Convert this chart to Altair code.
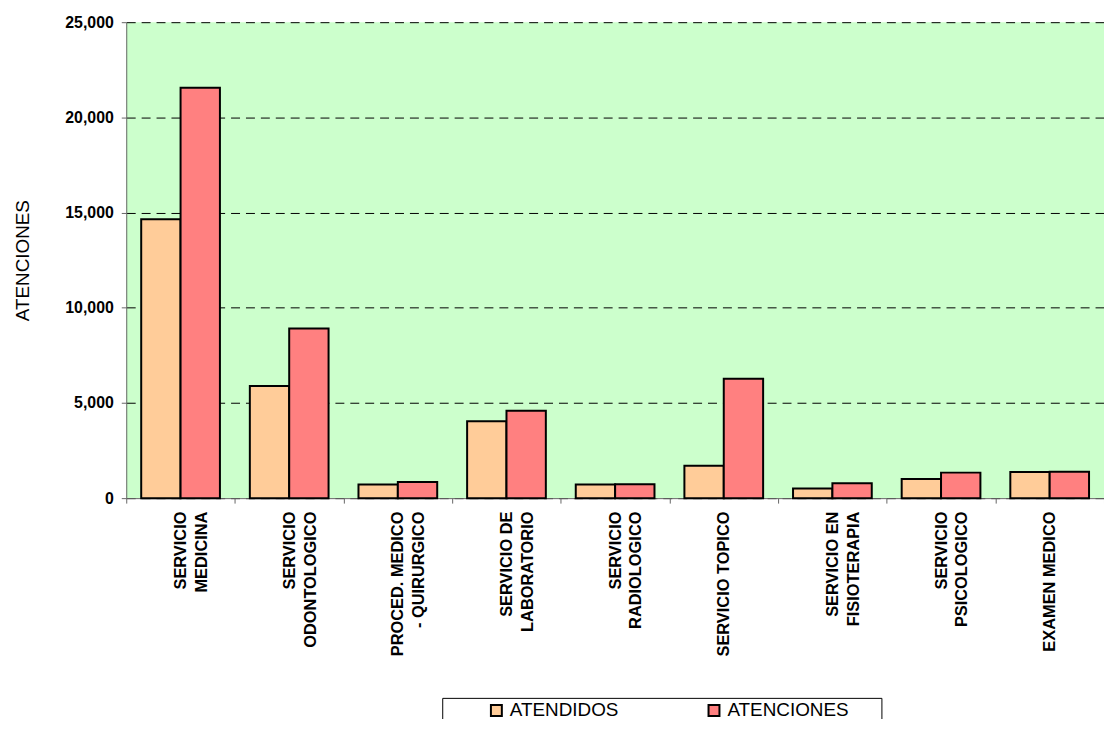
import altair as alt
import pandas as pd

categories = [
    "SERVICIO\nMEDICINA",
    "SERVICIO\nODONTOLOGICO",
    "PROCED. MEDICO\n- QUIRURGICO",
    "SERVICIO DE\nLABORATORIO",
    "SERVICIO\nRADIOLOGICO",
    "SERVICIO TOPICO",
    "SERVICIO EN\nFISIOTERAPIA",
    "SERVICIO\nPSICOLOGICO",
    "EXAMEN MEDICO",
]
atendidos = [14650, 5890, 715, 4035, 715, 1705, 505, 1005, 1375]
atenciones = [21560, 8910, 850, 4590, 730, 6265, 785, 1340, 1380]
series = ["ATENDIDOS", "ATENCIONES"]
series_colors = ["#FFCC99", "#FF8080"]
y_ticks = [0, 5000, 10000, 15000, 20000, 25000]

rows = []
for c, a, b in zip(categories, atendidos, atenciones):
    rows.append({"servicio": c, "serie": series[0], "valor": a})
    rows.append({"servicio": c, "serie": series[1], "valor": b})
df = pd.DataFrame(rows)

FONT = "Liberation Sans"

chart = alt.Chart(df).mark_bar(stroke="black", strokeWidth=2).encode(
    x=alt.X(
        "servicio:N",
        sort=categories,
        scale=alt.Scale(paddingInner=0, paddingOuter=0),
        axis=alt.Axis(
            title=None,
            labelAngle=-90,
            labelAlign="right",
            labelBaseline="middle",
            labelExpr="split(datum.label, '\\n')",
            labelFont=FONT,
            labelFontWeight="bold",
            labelFontSize=16.5,
            labelLineHeight=21,
            labelPadding=8,
            labelColor="black",
            labelLimit=0,
            tickBand="extent",
            ticks=True,
            tickSize=5,
            tickColor="#666666",
            domainColor="#666666",
            grid=False,
        ),
    ),
    xOffset=alt.XOffset(
        "serie:N", sort=series, scale=alt.Scale(paddingOuter=0.38, paddingInner=0)
    ),
    y=alt.Y(
        "valor:Q",
        scale=alt.Scale(domain=[0, 25000], nice=False),
        axis=alt.Axis(
            values=y_ticks,
            format=",.0f",
            title="ATENCIONES",
            titleFont=FONT,
            titleFontSize=19,
            titleFontWeight="normal",
            titleColor="black",
            titlePadding=32,
            labelFont=FONT,
            labelFontWeight="bold",
            labelFontSize=16,
            labelColor="black",
            labelPadding=8,
            tickSize=5,
            tickColor="#666666",
            domainColor="#666666",
            grid=True,
            gridColor="black",
            gridDash=[9, 6],
            gridWidth=1,
        ),
    ),
    color=alt.Color(
        "serie:N",
        sort=series,
        scale=alt.Scale(domain=series, range=series_colors),
        legend=alt.Legend(
            title="\u00a0",
            titleOrient="right",
            titlePadding=30,
            titleFontSize=10,
            orient="none",
            legendX=318,
            legendY=680,
            direction="horizontal",
            columnPadding=44,
            strokeColor="black",
            fillColor="white",
            padding=3,
            symbolType="square",
            symbolSize=121,
            symbolStrokeColor="black",
            symbolStrokeWidth=2,
            symbolOffset=42,
            labelOffset=4,
            labelFont=FONT,
            labelFontSize=19,
            labelColor="black",
            labelLimit=0,
        ),
    ),
).properties(
    width=984,
    height=479,
    autosize=alt.AutoSizeParams(type="none"),
    padding={"left": 119, "top": 12, "right": 0, "bottom": 220},
    background="white",
).configure_view(fill="#CCFFCC", stroke=None)

chart.save("out.html", embed_options={"renderer": "svg", "actions": False})
